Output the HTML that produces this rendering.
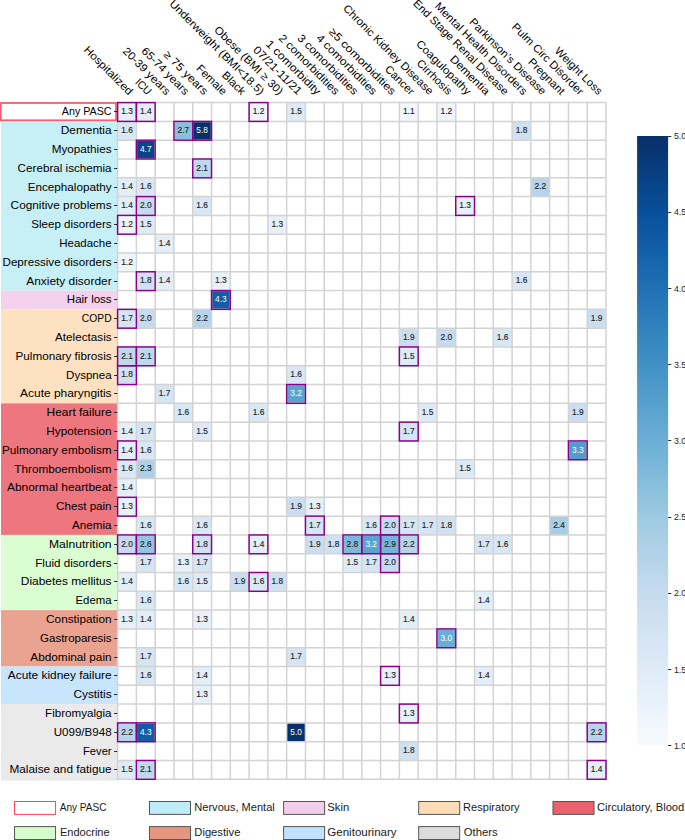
<!DOCTYPE html>
<html><head><meta charset="utf-8"><title>PASC heatmap</title>
<style>html,body{margin:0;padding:0;background:#fff;}body{width:685px;height:840px;position:relative;overflow:hidden;}
svg text{font-family:"Liberation Sans", sans-serif;}</style></head>
<body>
<svg width="685" height="840" viewBox="0 0 685 840" style="position:absolute;left:0;top:0">
<defs><linearGradient id="cb" x1="0" y1="1" x2="0" y2="0">
<stop offset="0.0000" stop-color="#f7fbff"/>
<stop offset="0.0312" stop-color="#f1f7fd"/>
<stop offset="0.0625" stop-color="#eaf3fb"/>
<stop offset="0.0938" stop-color="#e4eff9"/>
<stop offset="0.1250" stop-color="#deebf7"/>
<stop offset="0.1562" stop-color="#d8e7f5"/>
<stop offset="0.1875" stop-color="#d2e3f3"/>
<stop offset="0.2188" stop-color="#ccdff1"/>
<stop offset="0.2500" stop-color="#c6dbef"/>
<stop offset="0.2812" stop-color="#bcd7eb"/>
<stop offset="0.3125" stop-color="#b2d2e8"/>
<stop offset="0.3438" stop-color="#a8cee4"/>
<stop offset="0.3750" stop-color="#9dcae1"/>
<stop offset="0.4062" stop-color="#91c3de"/>
<stop offset="0.4375" stop-color="#84bcdb"/>
<stop offset="0.4688" stop-color="#77b5d9"/>
<stop offset="0.5000" stop-color="#6aaed6"/>
<stop offset="0.5312" stop-color="#60a7d2"/>
<stop offset="0.5625" stop-color="#56a0ce"/>
<stop offset="0.5938" stop-color="#4b98ca"/>
<stop offset="0.6250" stop-color="#4191c6"/>
<stop offset="0.6562" stop-color="#3989c1"/>
<stop offset="0.6875" stop-color="#3181bd"/>
<stop offset="0.7188" stop-color="#2979b9"/>
<stop offset="0.7500" stop-color="#2070b4"/>
<stop offset="0.7812" stop-color="#1a68ae"/>
<stop offset="0.8125" stop-color="#1460a8"/>
<stop offset="0.8438" stop-color="#0e58a2"/>
<stop offset="0.8750" stop-color="#08509b"/>
<stop offset="0.9062" stop-color="#08488e"/>
<stop offset="0.9375" stop-color="#084082"/>
<stop offset="0.9688" stop-color="#083776"/>
<stop offset="1.0000" stop-color="#08306b"/>
</linearGradient></defs>
<rect x="0" y="0" width="685" height="840" fill="#fff"/>
<rect x="1.0" y="121.40" width="116.60" height="169.17" fill="#c7eff6"/>
<rect x="1.0" y="290.57" width="116.60" height="18.80" fill="#f4d2ee"/>
<rect x="1.0" y="309.37" width="116.60" height="93.99" fill="#fee1c1"/>
<rect x="1.0" y="403.35" width="116.60" height="131.58" fill="#ee767e"/>
<rect x="1.0" y="534.93" width="116.60" height="75.19" fill="#dafed2"/>
<rect x="1.0" y="610.12" width="116.60" height="56.39" fill="#eaa391"/>
<rect x="1.0" y="666.51" width="116.60" height="37.59" fill="#c8e5fe"/>
<rect x="1.0" y="704.10" width="116.60" height="76.50" fill="#eaeaea"/>
<rect x="0.7" y="103.0" width="115.30" height="17.30" fill="#fff" stroke="#ff5a6e" stroke-width="1.8"/>
<rect x="117.60" y="102.60" width="18.79" height="18.80" fill="#e8f1fa"/>
<rect x="136.38" y="102.60" width="18.79" height="18.80" fill="#e3eef9"/>
<rect x="249.09" y="102.60" width="18.79" height="18.80" fill="#eef5fc"/>
<rect x="286.66" y="102.60" width="18.79" height="18.80" fill="#deebf7"/>
<rect x="399.38" y="102.60" width="18.79" height="18.80" fill="#f2f8fd"/>
<rect x="436.95" y="102.60" width="18.79" height="18.80" fill="#eef5fc"/>
<rect x="117.60" y="121.40" width="18.79" height="18.80" fill="#d9e8f5"/>
<rect x="173.95" y="121.40" width="18.79" height="18.80" fill="#8abfdd"/>
<rect x="192.74" y="121.40" width="18.79" height="18.80" fill="#08306b"/>
<rect x="512.09" y="121.40" width="18.79" height="18.80" fill="#d0e1f2"/>
<rect x="136.38" y="140.19" width="18.79" height="18.80" fill="#084488"/>
<rect x="192.74" y="158.99" width="18.79" height="18.80" fill="#bed8ec"/>
<rect x="117.60" y="177.79" width="18.79" height="18.80" fill="#e3eef9"/>
<rect x="136.38" y="177.79" width="18.79" height="18.80" fill="#d9e8f5"/>
<rect x="530.87" y="177.79" width="18.79" height="18.80" fill="#b7d4ea"/>
<rect x="117.60" y="196.58" width="18.79" height="18.80" fill="#e3eef9"/>
<rect x="136.38" y="196.58" width="18.79" height="18.80" fill="#c6dbef"/>
<rect x="192.74" y="196.58" width="18.79" height="18.80" fill="#d9e8f5"/>
<rect x="455.73" y="196.58" width="18.79" height="18.80" fill="#e8f1fa"/>
<rect x="117.60" y="215.38" width="18.79" height="18.80" fill="#eef5fc"/>
<rect x="136.38" y="215.38" width="18.79" height="18.80" fill="#deebf7"/>
<rect x="267.88" y="215.38" width="18.79" height="18.80" fill="#e8f1fa"/>
<rect x="155.17" y="234.18" width="18.79" height="18.80" fill="#e3eef9"/>
<rect x="117.60" y="252.98" width="18.79" height="18.80" fill="#eef5fc"/>
<rect x="136.38" y="271.77" width="18.79" height="18.80" fill="#d0e1f2"/>
<rect x="155.17" y="271.77" width="18.79" height="18.80" fill="#e3eef9"/>
<rect x="211.52" y="271.77" width="18.79" height="18.80" fill="#e8f1fa"/>
<rect x="512.09" y="271.77" width="18.79" height="18.80" fill="#d9e8f5"/>
<rect x="211.52" y="290.57" width="18.79" height="18.80" fill="#125da6"/>
<rect x="117.60" y="309.37" width="18.79" height="18.80" fill="#d5e5f4"/>
<rect x="136.38" y="309.37" width="18.79" height="18.80" fill="#c6dbef"/>
<rect x="192.74" y="309.37" width="18.79" height="18.80" fill="#b7d4ea"/>
<rect x="587.23" y="309.37" width="18.79" height="18.80" fill="#cbdef1"/>
<rect x="399.38" y="328.16" width="18.79" height="18.80" fill="#cbdef1"/>
<rect x="436.95" y="328.16" width="18.79" height="18.80" fill="#c6dbef"/>
<rect x="493.30" y="328.16" width="18.79" height="18.80" fill="#d9e8f5"/>
<rect x="117.60" y="346.96" width="18.79" height="18.80" fill="#bed8ec"/>
<rect x="136.38" y="346.96" width="18.79" height="18.80" fill="#bed8ec"/>
<rect x="399.38" y="346.96" width="18.79" height="18.80" fill="#deebf7"/>
<rect x="117.60" y="365.76" width="18.79" height="18.80" fill="#d0e1f2"/>
<rect x="286.66" y="365.76" width="18.79" height="18.80" fill="#d9e8f5"/>
<rect x="155.17" y="384.55" width="18.79" height="18.80" fill="#d5e5f4"/>
<rect x="286.66" y="384.55" width="18.79" height="18.80" fill="#5ba3d0"/>
<rect x="173.95" y="403.35" width="18.79" height="18.80" fill="#d9e8f5"/>
<rect x="249.09" y="403.35" width="18.79" height="18.80" fill="#d9e8f5"/>
<rect x="418.16" y="403.35" width="18.79" height="18.80" fill="#deebf7"/>
<rect x="568.44" y="403.35" width="18.79" height="18.80" fill="#cbdef1"/>
<rect x="117.60" y="422.15" width="18.79" height="18.80" fill="#e3eef9"/>
<rect x="136.38" y="422.15" width="18.79" height="18.80" fill="#d5e5f4"/>
<rect x="192.74" y="422.15" width="18.79" height="18.80" fill="#deebf7"/>
<rect x="399.38" y="422.15" width="18.79" height="18.80" fill="#d5e5f4"/>
<rect x="117.60" y="440.95" width="18.79" height="18.80" fill="#e3eef9"/>
<rect x="136.38" y="440.95" width="18.79" height="18.80" fill="#d9e8f5"/>
<rect x="568.44" y="440.95" width="18.79" height="18.80" fill="#529dcc"/>
<rect x="117.60" y="459.74" width="18.79" height="18.80" fill="#d9e8f5"/>
<rect x="136.38" y="459.74" width="18.79" height="18.80" fill="#aed1e7"/>
<rect x="455.73" y="459.74" width="18.79" height="18.80" fill="#deebf7"/>
<rect x="117.60" y="478.54" width="18.79" height="18.80" fill="#e3eef9"/>
<rect x="117.60" y="497.34" width="18.79" height="18.80" fill="#e8f1fa"/>
<rect x="286.66" y="497.34" width="18.79" height="18.80" fill="#cbdef1"/>
<rect x="305.45" y="497.34" width="18.79" height="18.80" fill="#e8f1fa"/>
<rect x="136.38" y="516.13" width="18.79" height="18.80" fill="#d9e8f5"/>
<rect x="192.74" y="516.13" width="18.79" height="18.80" fill="#d9e8f5"/>
<rect x="305.45" y="516.13" width="18.79" height="18.80" fill="#d5e5f4"/>
<rect x="361.81" y="516.13" width="18.79" height="18.80" fill="#d9e8f5"/>
<rect x="380.59" y="516.13" width="18.79" height="18.80" fill="#c6dbef"/>
<rect x="399.38" y="516.13" width="18.79" height="18.80" fill="#d5e5f4"/>
<rect x="418.16" y="516.13" width="18.79" height="18.80" fill="#d5e5f4"/>
<rect x="436.95" y="516.13" width="18.79" height="18.80" fill="#d0e1f2"/>
<rect x="549.65" y="516.13" width="18.79" height="18.80" fill="#a6cee4"/>
<rect x="117.60" y="534.93" width="18.79" height="18.80" fill="#c6dbef"/>
<rect x="136.38" y="534.93" width="18.79" height="18.80" fill="#94c4df"/>
<rect x="192.74" y="534.93" width="18.79" height="18.80" fill="#d0e1f2"/>
<rect x="249.09" y="534.93" width="18.79" height="18.80" fill="#e3eef9"/>
<rect x="305.45" y="534.93" width="18.79" height="18.80" fill="#cbdef1"/>
<rect x="324.24" y="534.93" width="18.79" height="18.80" fill="#d0e1f2"/>
<rect x="343.02" y="534.93" width="18.79" height="18.80" fill="#7fb9da"/>
<rect x="361.81" y="534.93" width="18.79" height="18.80" fill="#5ba3d0"/>
<rect x="380.59" y="534.93" width="18.79" height="18.80" fill="#75b4d8"/>
<rect x="399.38" y="534.93" width="18.79" height="18.80" fill="#b7d4ea"/>
<rect x="474.51" y="534.93" width="18.79" height="18.80" fill="#d5e5f4"/>
<rect x="493.30" y="534.93" width="18.79" height="18.80" fill="#d9e8f5"/>
<rect x="136.38" y="553.73" width="18.79" height="18.80" fill="#d5e5f4"/>
<rect x="173.95" y="553.73" width="18.79" height="18.80" fill="#e8f1fa"/>
<rect x="192.74" y="553.73" width="18.79" height="18.80" fill="#d5e5f4"/>
<rect x="343.02" y="553.73" width="18.79" height="18.80" fill="#deebf7"/>
<rect x="361.81" y="553.73" width="18.79" height="18.80" fill="#d5e5f4"/>
<rect x="380.59" y="553.73" width="18.79" height="18.80" fill="#c6dbef"/>
<rect x="117.60" y="572.52" width="18.79" height="18.80" fill="#e3eef9"/>
<rect x="173.95" y="572.52" width="18.79" height="18.80" fill="#d9e8f5"/>
<rect x="192.74" y="572.52" width="18.79" height="18.80" fill="#deebf7"/>
<rect x="230.31" y="572.52" width="18.79" height="18.80" fill="#cbdef1"/>
<rect x="249.09" y="572.52" width="18.79" height="18.80" fill="#d9e8f5"/>
<rect x="267.88" y="572.52" width="18.79" height="18.80" fill="#d0e1f2"/>
<rect x="136.38" y="591.32" width="18.79" height="18.80" fill="#d9e8f5"/>
<rect x="474.51" y="591.32" width="18.79" height="18.80" fill="#e3eef9"/>
<rect x="117.60" y="610.12" width="18.79" height="18.80" fill="#e8f1fa"/>
<rect x="136.38" y="610.12" width="18.79" height="18.80" fill="#e3eef9"/>
<rect x="192.74" y="610.12" width="18.79" height="18.80" fill="#e8f1fa"/>
<rect x="399.38" y="610.12" width="18.79" height="18.80" fill="#e3eef9"/>
<rect x="436.95" y="628.92" width="18.79" height="18.80" fill="#6aaed6"/>
<rect x="136.38" y="647.71" width="18.79" height="18.80" fill="#d5e5f4"/>
<rect x="286.66" y="647.71" width="18.79" height="18.80" fill="#d5e5f4"/>
<rect x="136.38" y="666.51" width="18.79" height="18.80" fill="#d9e8f5"/>
<rect x="192.74" y="666.51" width="18.79" height="18.80" fill="#e3eef9"/>
<rect x="380.59" y="666.51" width="18.79" height="18.80" fill="#e8f1fa"/>
<rect x="474.51" y="666.51" width="18.79" height="18.80" fill="#e3eef9"/>
<rect x="192.74" y="685.31" width="18.79" height="18.80" fill="#e8f1fa"/>
<rect x="399.38" y="704.10" width="18.79" height="18.80" fill="#e8f1fa"/>
<rect x="117.60" y="722.90" width="18.79" height="18.80" fill="#b7d4ea"/>
<rect x="136.38" y="722.90" width="18.79" height="18.80" fill="#125da6"/>
<rect x="286.66" y="722.90" width="18.79" height="18.80" fill="#08306b"/>
<rect x="587.23" y="722.90" width="18.79" height="18.80" fill="#b7d4ea"/>
<rect x="399.38" y="741.70" width="18.79" height="18.80" fill="#d0e1f2"/>
<rect x="117.60" y="760.50" width="18.79" height="18.80" fill="#deebf7"/>
<rect x="136.38" y="760.50" width="18.79" height="18.80" fill="#bed8ec"/>
<rect x="587.23" y="760.50" width="18.79" height="18.80" fill="#e3eef9"/>
<path d="M117.60 101.85V780.04M136.38 101.85V780.04M155.17 101.85V780.04M173.95 101.85V780.04M192.74 101.85V780.04M211.52 101.85V780.04M230.31 101.85V780.04M249.09 101.85V780.04M267.88 101.85V780.04M286.66 101.85V780.04M305.45 101.85V780.04M324.24 101.85V780.04M343.02 101.85V780.04M361.81 101.85V780.04M380.59 101.85V780.04M399.38 101.85V780.04M418.16 101.85V780.04M436.95 101.85V780.04M455.73 101.85V780.04M474.51 101.85V780.04M493.30 101.85V780.04M512.09 101.85V780.04M530.87 101.85V780.04M549.65 101.85V780.04M568.44 101.85V780.04M587.23 101.85V780.04M606.01 101.85V780.04M116.85 102.60H606.76M116.85 121.40H606.76M116.85 140.19H606.76M116.85 158.99H606.76M116.85 177.79H606.76M116.85 196.58H606.76M116.85 215.38H606.76M116.85 234.18H606.76M116.85 252.98H606.76M116.85 271.77H606.76M116.85 290.57H606.76M116.85 309.37H606.76M116.85 328.16H606.76M116.85 346.96H606.76M116.85 365.76H606.76M116.85 384.55H606.76M116.85 403.35H606.76M116.85 422.15H606.76M116.85 440.95H606.76M116.85 459.74H606.76M116.85 478.54H606.76M116.85 497.34H606.76M116.85 516.13H606.76M116.85 534.93H606.76M116.85 553.73H606.76M116.85 572.52H606.76M116.85 591.32H606.76M116.85 610.12H606.76M116.85 628.92H606.76M116.85 647.71H606.76M116.85 666.51H606.76M116.85 685.31H606.76M116.85 704.10H606.76M116.85 722.90H606.76M116.85 741.70H606.76M116.85 760.50H606.76M116.85 779.29H606.76" stroke="#d3d3d3" stroke-width="1.5" fill="none"/>
<rect x="117.60" y="102.60" width="18.79" height="18.80" fill="none" stroke="#8b008b" stroke-width="1.45"/>
<rect x="136.38" y="102.60" width="18.79" height="18.80" fill="none" stroke="#8b008b" stroke-width="1.45"/>
<rect x="249.09" y="102.60" width="18.79" height="18.80" fill="none" stroke="#8b008b" stroke-width="1.45"/>
<rect x="173.95" y="121.40" width="18.79" height="18.80" fill="none" stroke="#8b008b" stroke-width="1.45"/>
<rect x="192.74" y="121.40" width="18.79" height="18.80" fill="none" stroke="#8b008b" stroke-width="1.45"/>
<rect x="136.38" y="140.19" width="18.79" height="18.80" fill="none" stroke="#8b008b" stroke-width="1.45"/>
<rect x="192.74" y="158.99" width="18.79" height="18.80" fill="none" stroke="#8b008b" stroke-width="1.45"/>
<rect x="136.38" y="196.58" width="18.79" height="18.80" fill="none" stroke="#8b008b" stroke-width="1.45"/>
<rect x="455.73" y="196.58" width="18.79" height="18.80" fill="none" stroke="#8b008b" stroke-width="1.45"/>
<rect x="117.60" y="215.38" width="18.79" height="18.80" fill="none" stroke="#8b008b" stroke-width="1.45"/>
<rect x="136.38" y="271.77" width="18.79" height="18.80" fill="none" stroke="#8b008b" stroke-width="1.45"/>
<rect x="211.52" y="290.57" width="18.79" height="18.80" fill="none" stroke="#8b008b" stroke-width="1.45"/>
<rect x="117.60" y="309.37" width="18.79" height="18.80" fill="none" stroke="#8b008b" stroke-width="1.45"/>
<rect x="117.60" y="346.96" width="18.79" height="18.80" fill="none" stroke="#8b008b" stroke-width="1.45"/>
<rect x="136.38" y="346.96" width="18.79" height="18.80" fill="none" stroke="#8b008b" stroke-width="1.45"/>
<rect x="399.38" y="346.96" width="18.79" height="18.80" fill="none" stroke="#8b008b" stroke-width="1.45"/>
<rect x="117.60" y="365.76" width="18.79" height="18.80" fill="none" stroke="#8b008b" stroke-width="1.45"/>
<rect x="286.66" y="384.55" width="18.79" height="18.80" fill="none" stroke="#8b008b" stroke-width="1.45"/>
<rect x="399.38" y="422.15" width="18.79" height="18.80" fill="none" stroke="#8b008b" stroke-width="1.45"/>
<rect x="117.60" y="440.95" width="18.79" height="18.80" fill="none" stroke="#8b008b" stroke-width="1.45"/>
<rect x="568.44" y="440.95" width="18.79" height="18.80" fill="none" stroke="#8b008b" stroke-width="1.45"/>
<rect x="117.60" y="497.34" width="18.79" height="18.80" fill="none" stroke="#8b008b" stroke-width="1.45"/>
<rect x="305.45" y="516.13" width="18.79" height="18.80" fill="none" stroke="#8b008b" stroke-width="1.45"/>
<rect x="380.59" y="516.13" width="18.79" height="18.80" fill="none" stroke="#8b008b" stroke-width="1.45"/>
<rect x="117.60" y="534.93" width="18.79" height="18.80" fill="none" stroke="#8b008b" stroke-width="1.45"/>
<rect x="136.38" y="534.93" width="18.79" height="18.80" fill="none" stroke="#8b008b" stroke-width="1.45"/>
<rect x="192.74" y="534.93" width="18.79" height="18.80" fill="none" stroke="#8b008b" stroke-width="1.45"/>
<rect x="249.09" y="534.93" width="18.79" height="18.80" fill="none" stroke="#8b008b" stroke-width="1.45"/>
<rect x="343.02" y="534.93" width="18.79" height="18.80" fill="none" stroke="#8b008b" stroke-width="1.45"/>
<rect x="361.81" y="534.93" width="18.79" height="18.80" fill="none" stroke="#8b008b" stroke-width="1.45"/>
<rect x="380.59" y="534.93" width="18.79" height="18.80" fill="none" stroke="#8b008b" stroke-width="1.45"/>
<rect x="399.38" y="534.93" width="18.79" height="18.80" fill="none" stroke="#8b008b" stroke-width="1.45"/>
<rect x="380.59" y="553.73" width="18.79" height="18.80" fill="none" stroke="#8b008b" stroke-width="1.45"/>
<rect x="249.09" y="572.52" width="18.79" height="18.80" fill="none" stroke="#8b008b" stroke-width="1.45"/>
<rect x="436.95" y="628.92" width="18.79" height="18.80" fill="none" stroke="#8b008b" stroke-width="1.45"/>
<rect x="380.59" y="666.51" width="18.79" height="18.80" fill="none" stroke="#8b008b" stroke-width="1.45"/>
<rect x="399.38" y="704.10" width="18.79" height="18.80" fill="none" stroke="#8b008b" stroke-width="1.45"/>
<rect x="117.60" y="722.90" width="18.79" height="18.80" fill="none" stroke="#8b008b" stroke-width="1.45"/>
<rect x="136.38" y="722.90" width="18.79" height="18.80" fill="none" stroke="#8b008b" stroke-width="1.45"/>
<rect x="587.23" y="722.90" width="18.79" height="18.80" fill="none" stroke="#8b008b" stroke-width="1.45"/>
<rect x="136.38" y="760.50" width="18.79" height="18.80" fill="none" stroke="#8b008b" stroke-width="1.45"/>
<rect x="587.23" y="760.50" width="18.79" height="18.80" fill="none" stroke="#8b008b" stroke-width="1.45"/>
<text x="126.99" y="114.30" text-anchor="middle" font-size="8.3" fill="#262626" stroke="#262626" stroke-width="0.15" textLength="11.61" lengthAdjust="spacingAndGlyphs">1.3</text>
<text x="145.78" y="114.30" text-anchor="middle" font-size="8.3" fill="#262626" stroke="#262626" stroke-width="0.15" textLength="11.61" lengthAdjust="spacingAndGlyphs">1.4</text>
<text x="258.49" y="114.30" text-anchor="middle" font-size="8.3" fill="#262626" stroke="#262626" stroke-width="0.15" textLength="11.61" lengthAdjust="spacingAndGlyphs">1.2</text>
<text x="296.06" y="114.30" text-anchor="middle" font-size="8.3" fill="#262626" stroke="#262626" stroke-width="0.15" textLength="11.61" lengthAdjust="spacingAndGlyphs">1.5</text>
<text x="408.77" y="114.30" text-anchor="middle" font-size="8.3" fill="#262626" stroke="#262626" stroke-width="0.15" textLength="11.61" lengthAdjust="spacingAndGlyphs">1.1</text>
<text x="446.34" y="114.30" text-anchor="middle" font-size="8.3" fill="#262626" stroke="#262626" stroke-width="0.15" textLength="11.61" lengthAdjust="spacingAndGlyphs">1.2</text>
<text x="126.99" y="133.10" text-anchor="middle" font-size="8.3" fill="#262626" stroke="#262626" stroke-width="0.15" textLength="11.61" lengthAdjust="spacingAndGlyphs">1.6</text>
<text x="183.35" y="133.10" text-anchor="middle" font-size="8.3" fill="#262626" stroke="#262626" stroke-width="0.15" textLength="11.61" lengthAdjust="spacingAndGlyphs">2.7</text>
<text x="202.13" y="133.10" text-anchor="middle" font-size="8.3" fill="#ffffff" stroke="#ffffff" stroke-width="0.0" textLength="11.61" lengthAdjust="spacingAndGlyphs">5.8</text>
<text x="521.48" y="133.10" text-anchor="middle" font-size="8.3" fill="#262626" stroke="#262626" stroke-width="0.15" textLength="11.61" lengthAdjust="spacingAndGlyphs">1.8</text>
<text x="145.78" y="151.89" text-anchor="middle" font-size="8.3" fill="#ffffff" stroke="#ffffff" stroke-width="0.0" textLength="11.61" lengthAdjust="spacingAndGlyphs">4.7</text>
<text x="202.13" y="170.69" text-anchor="middle" font-size="8.3" fill="#262626" stroke="#262626" stroke-width="0.15" textLength="11.61" lengthAdjust="spacingAndGlyphs">2.1</text>
<text x="126.99" y="189.49" text-anchor="middle" font-size="8.3" fill="#262626" stroke="#262626" stroke-width="0.15" textLength="11.61" lengthAdjust="spacingAndGlyphs">1.4</text>
<text x="145.78" y="189.49" text-anchor="middle" font-size="8.3" fill="#262626" stroke="#262626" stroke-width="0.15" textLength="11.61" lengthAdjust="spacingAndGlyphs">1.6</text>
<text x="540.26" y="189.49" text-anchor="middle" font-size="8.3" fill="#262626" stroke="#262626" stroke-width="0.15" textLength="11.61" lengthAdjust="spacingAndGlyphs">2.2</text>
<text x="126.99" y="208.28" text-anchor="middle" font-size="8.3" fill="#262626" stroke="#262626" stroke-width="0.15" textLength="11.61" lengthAdjust="spacingAndGlyphs">1.4</text>
<text x="145.78" y="208.28" text-anchor="middle" font-size="8.3" fill="#262626" stroke="#262626" stroke-width="0.15" textLength="11.61" lengthAdjust="spacingAndGlyphs">2.0</text>
<text x="202.13" y="208.28" text-anchor="middle" font-size="8.3" fill="#262626" stroke="#262626" stroke-width="0.15" textLength="11.61" lengthAdjust="spacingAndGlyphs">1.6</text>
<text x="465.12" y="208.28" text-anchor="middle" font-size="8.3" fill="#262626" stroke="#262626" stroke-width="0.15" textLength="11.61" lengthAdjust="spacingAndGlyphs">1.3</text>
<text x="126.99" y="227.08" text-anchor="middle" font-size="8.3" fill="#262626" stroke="#262626" stroke-width="0.15" textLength="11.61" lengthAdjust="spacingAndGlyphs">1.2</text>
<text x="145.78" y="227.08" text-anchor="middle" font-size="8.3" fill="#262626" stroke="#262626" stroke-width="0.15" textLength="11.61" lengthAdjust="spacingAndGlyphs">1.5</text>
<text x="277.27" y="227.08" text-anchor="middle" font-size="8.3" fill="#262626" stroke="#262626" stroke-width="0.15" textLength="11.61" lengthAdjust="spacingAndGlyphs">1.3</text>
<text x="164.56" y="245.88" text-anchor="middle" font-size="8.3" fill="#262626" stroke="#262626" stroke-width="0.15" textLength="11.61" lengthAdjust="spacingAndGlyphs">1.4</text>
<text x="126.99" y="264.67" text-anchor="middle" font-size="8.3" fill="#262626" stroke="#262626" stroke-width="0.15" textLength="11.61" lengthAdjust="spacingAndGlyphs">1.2</text>
<text x="145.78" y="283.47" text-anchor="middle" font-size="8.3" fill="#262626" stroke="#262626" stroke-width="0.15" textLength="11.61" lengthAdjust="spacingAndGlyphs">1.8</text>
<text x="164.56" y="283.47" text-anchor="middle" font-size="8.3" fill="#262626" stroke="#262626" stroke-width="0.15" textLength="11.61" lengthAdjust="spacingAndGlyphs">1.4</text>
<text x="220.92" y="283.47" text-anchor="middle" font-size="8.3" fill="#262626" stroke="#262626" stroke-width="0.15" textLength="11.61" lengthAdjust="spacingAndGlyphs">1.3</text>
<text x="521.48" y="283.47" text-anchor="middle" font-size="8.3" fill="#262626" stroke="#262626" stroke-width="0.15" textLength="11.61" lengthAdjust="spacingAndGlyphs">1.6</text>
<text x="220.92" y="302.27" text-anchor="middle" font-size="8.3" fill="#ffffff" stroke="#ffffff" stroke-width="0.0" textLength="11.61" lengthAdjust="spacingAndGlyphs">4.3</text>
<text x="126.99" y="321.07" text-anchor="middle" font-size="8.3" fill="#262626" stroke="#262626" stroke-width="0.15" textLength="11.61" lengthAdjust="spacingAndGlyphs">1.7</text>
<text x="145.78" y="321.07" text-anchor="middle" font-size="8.3" fill="#262626" stroke="#262626" stroke-width="0.15" textLength="11.61" lengthAdjust="spacingAndGlyphs">2.0</text>
<text x="202.13" y="321.07" text-anchor="middle" font-size="8.3" fill="#262626" stroke="#262626" stroke-width="0.15" textLength="11.61" lengthAdjust="spacingAndGlyphs">2.2</text>
<text x="596.62" y="321.07" text-anchor="middle" font-size="8.3" fill="#262626" stroke="#262626" stroke-width="0.15" textLength="11.61" lengthAdjust="spacingAndGlyphs">1.9</text>
<text x="408.77" y="339.86" text-anchor="middle" font-size="8.3" fill="#262626" stroke="#262626" stroke-width="0.15" textLength="11.61" lengthAdjust="spacingAndGlyphs">1.9</text>
<text x="446.34" y="339.86" text-anchor="middle" font-size="8.3" fill="#262626" stroke="#262626" stroke-width="0.15" textLength="11.61" lengthAdjust="spacingAndGlyphs">2.0</text>
<text x="502.69" y="339.86" text-anchor="middle" font-size="8.3" fill="#262626" stroke="#262626" stroke-width="0.15" textLength="11.61" lengthAdjust="spacingAndGlyphs">1.6</text>
<text x="126.99" y="358.66" text-anchor="middle" font-size="8.3" fill="#262626" stroke="#262626" stroke-width="0.15" textLength="11.61" lengthAdjust="spacingAndGlyphs">2.1</text>
<text x="145.78" y="358.66" text-anchor="middle" font-size="8.3" fill="#262626" stroke="#262626" stroke-width="0.15" textLength="11.61" lengthAdjust="spacingAndGlyphs">2.1</text>
<text x="408.77" y="358.66" text-anchor="middle" font-size="8.3" fill="#262626" stroke="#262626" stroke-width="0.15" textLength="11.61" lengthAdjust="spacingAndGlyphs">1.5</text>
<text x="126.99" y="377.46" text-anchor="middle" font-size="8.3" fill="#262626" stroke="#262626" stroke-width="0.15" textLength="11.61" lengthAdjust="spacingAndGlyphs">1.8</text>
<text x="296.06" y="377.46" text-anchor="middle" font-size="8.3" fill="#262626" stroke="#262626" stroke-width="0.15" textLength="11.61" lengthAdjust="spacingAndGlyphs">1.6</text>
<text x="164.56" y="396.25" text-anchor="middle" font-size="8.3" fill="#262626" stroke="#262626" stroke-width="0.15" textLength="11.61" lengthAdjust="spacingAndGlyphs">1.7</text>
<text x="296.06" y="396.25" text-anchor="middle" font-size="8.3" fill="#ffffff" stroke="#ffffff" stroke-width="0.0" textLength="11.61" lengthAdjust="spacingAndGlyphs">3.2</text>
<text x="183.35" y="415.05" text-anchor="middle" font-size="8.3" fill="#262626" stroke="#262626" stroke-width="0.15" textLength="11.61" lengthAdjust="spacingAndGlyphs">1.6</text>
<text x="258.49" y="415.05" text-anchor="middle" font-size="8.3" fill="#262626" stroke="#262626" stroke-width="0.15" textLength="11.61" lengthAdjust="spacingAndGlyphs">1.6</text>
<text x="427.55" y="415.05" text-anchor="middle" font-size="8.3" fill="#262626" stroke="#262626" stroke-width="0.15" textLength="11.61" lengthAdjust="spacingAndGlyphs">1.5</text>
<text x="577.83" y="415.05" text-anchor="middle" font-size="8.3" fill="#262626" stroke="#262626" stroke-width="0.15" textLength="11.61" lengthAdjust="spacingAndGlyphs">1.9</text>
<text x="126.99" y="433.85" text-anchor="middle" font-size="8.3" fill="#262626" stroke="#262626" stroke-width="0.15" textLength="11.61" lengthAdjust="spacingAndGlyphs">1.4</text>
<text x="145.78" y="433.85" text-anchor="middle" font-size="8.3" fill="#262626" stroke="#262626" stroke-width="0.15" textLength="11.61" lengthAdjust="spacingAndGlyphs">1.7</text>
<text x="202.13" y="433.85" text-anchor="middle" font-size="8.3" fill="#262626" stroke="#262626" stroke-width="0.15" textLength="11.61" lengthAdjust="spacingAndGlyphs">1.5</text>
<text x="408.77" y="433.85" text-anchor="middle" font-size="8.3" fill="#262626" stroke="#262626" stroke-width="0.15" textLength="11.61" lengthAdjust="spacingAndGlyphs">1.7</text>
<text x="126.99" y="452.64" text-anchor="middle" font-size="8.3" fill="#262626" stroke="#262626" stroke-width="0.15" textLength="11.61" lengthAdjust="spacingAndGlyphs">1.4</text>
<text x="145.78" y="452.64" text-anchor="middle" font-size="8.3" fill="#262626" stroke="#262626" stroke-width="0.15" textLength="11.61" lengthAdjust="spacingAndGlyphs">1.6</text>
<text x="577.83" y="452.64" text-anchor="middle" font-size="8.3" fill="#ffffff" stroke="#ffffff" stroke-width="0.0" textLength="11.61" lengthAdjust="spacingAndGlyphs">3.3</text>
<text x="126.99" y="471.44" text-anchor="middle" font-size="8.3" fill="#262626" stroke="#262626" stroke-width="0.15" textLength="11.61" lengthAdjust="spacingAndGlyphs">1.6</text>
<text x="145.78" y="471.44" text-anchor="middle" font-size="8.3" fill="#262626" stroke="#262626" stroke-width="0.15" textLength="11.61" lengthAdjust="spacingAndGlyphs">2.3</text>
<text x="465.12" y="471.44" text-anchor="middle" font-size="8.3" fill="#262626" stroke="#262626" stroke-width="0.15" textLength="11.61" lengthAdjust="spacingAndGlyphs">1.5</text>
<text x="126.99" y="490.24" text-anchor="middle" font-size="8.3" fill="#262626" stroke="#262626" stroke-width="0.15" textLength="11.61" lengthAdjust="spacingAndGlyphs">1.4</text>
<text x="126.99" y="509.04" text-anchor="middle" font-size="8.3" fill="#262626" stroke="#262626" stroke-width="0.15" textLength="11.61" lengthAdjust="spacingAndGlyphs">1.3</text>
<text x="296.06" y="509.04" text-anchor="middle" font-size="8.3" fill="#262626" stroke="#262626" stroke-width="0.15" textLength="11.61" lengthAdjust="spacingAndGlyphs">1.9</text>
<text x="314.84" y="509.04" text-anchor="middle" font-size="8.3" fill="#262626" stroke="#262626" stroke-width="0.15" textLength="11.61" lengthAdjust="spacingAndGlyphs">1.3</text>
<text x="145.78" y="527.83" text-anchor="middle" font-size="8.3" fill="#262626" stroke="#262626" stroke-width="0.15" textLength="11.61" lengthAdjust="spacingAndGlyphs">1.6</text>
<text x="202.13" y="527.83" text-anchor="middle" font-size="8.3" fill="#262626" stroke="#262626" stroke-width="0.15" textLength="11.61" lengthAdjust="spacingAndGlyphs">1.6</text>
<text x="314.84" y="527.83" text-anchor="middle" font-size="8.3" fill="#262626" stroke="#262626" stroke-width="0.15" textLength="11.61" lengthAdjust="spacingAndGlyphs">1.7</text>
<text x="371.20" y="527.83" text-anchor="middle" font-size="8.3" fill="#262626" stroke="#262626" stroke-width="0.15" textLength="11.61" lengthAdjust="spacingAndGlyphs">1.6</text>
<text x="389.98" y="527.83" text-anchor="middle" font-size="8.3" fill="#262626" stroke="#262626" stroke-width="0.15" textLength="11.61" lengthAdjust="spacingAndGlyphs">2.0</text>
<text x="408.77" y="527.83" text-anchor="middle" font-size="8.3" fill="#262626" stroke="#262626" stroke-width="0.15" textLength="11.61" lengthAdjust="spacingAndGlyphs">1.7</text>
<text x="427.55" y="527.83" text-anchor="middle" font-size="8.3" fill="#262626" stroke="#262626" stroke-width="0.15" textLength="11.61" lengthAdjust="spacingAndGlyphs">1.7</text>
<text x="446.34" y="527.83" text-anchor="middle" font-size="8.3" fill="#262626" stroke="#262626" stroke-width="0.15" textLength="11.61" lengthAdjust="spacingAndGlyphs">1.8</text>
<text x="559.05" y="527.83" text-anchor="middle" font-size="8.3" fill="#262626" stroke="#262626" stroke-width="0.15" textLength="11.61" lengthAdjust="spacingAndGlyphs">2.4</text>
<text x="126.99" y="546.63" text-anchor="middle" font-size="8.3" fill="#262626" stroke="#262626" stroke-width="0.15" textLength="11.61" lengthAdjust="spacingAndGlyphs">2.0</text>
<text x="145.78" y="546.63" text-anchor="middle" font-size="8.3" fill="#262626" stroke="#262626" stroke-width="0.15" textLength="11.61" lengthAdjust="spacingAndGlyphs">2.6</text>
<text x="202.13" y="546.63" text-anchor="middle" font-size="8.3" fill="#262626" stroke="#262626" stroke-width="0.15" textLength="11.61" lengthAdjust="spacingAndGlyphs">1.8</text>
<text x="258.49" y="546.63" text-anchor="middle" font-size="8.3" fill="#262626" stroke="#262626" stroke-width="0.15" textLength="11.61" lengthAdjust="spacingAndGlyphs">1.4</text>
<text x="314.84" y="546.63" text-anchor="middle" font-size="8.3" fill="#262626" stroke="#262626" stroke-width="0.15" textLength="11.61" lengthAdjust="spacingAndGlyphs">1.9</text>
<text x="333.63" y="546.63" text-anchor="middle" font-size="8.3" fill="#262626" stroke="#262626" stroke-width="0.15" textLength="11.61" lengthAdjust="spacingAndGlyphs">1.8</text>
<text x="352.41" y="546.63" text-anchor="middle" font-size="8.3" fill="#262626" stroke="#262626" stroke-width="0.15" textLength="11.61" lengthAdjust="spacingAndGlyphs">2.8</text>
<text x="371.20" y="546.63" text-anchor="middle" font-size="8.3" fill="#ffffff" stroke="#ffffff" stroke-width="0.0" textLength="11.61" lengthAdjust="spacingAndGlyphs">3.2</text>
<text x="389.98" y="546.63" text-anchor="middle" font-size="8.3" fill="#262626" stroke="#262626" stroke-width="0.15" textLength="11.61" lengthAdjust="spacingAndGlyphs">2.9</text>
<text x="408.77" y="546.63" text-anchor="middle" font-size="8.3" fill="#262626" stroke="#262626" stroke-width="0.15" textLength="11.61" lengthAdjust="spacingAndGlyphs">2.2</text>
<text x="483.91" y="546.63" text-anchor="middle" font-size="8.3" fill="#262626" stroke="#262626" stroke-width="0.15" textLength="11.61" lengthAdjust="spacingAndGlyphs">1.7</text>
<text x="502.69" y="546.63" text-anchor="middle" font-size="8.3" fill="#262626" stroke="#262626" stroke-width="0.15" textLength="11.61" lengthAdjust="spacingAndGlyphs">1.6</text>
<text x="145.78" y="565.43" text-anchor="middle" font-size="8.3" fill="#262626" stroke="#262626" stroke-width="0.15" textLength="11.61" lengthAdjust="spacingAndGlyphs">1.7</text>
<text x="183.35" y="565.43" text-anchor="middle" font-size="8.3" fill="#262626" stroke="#262626" stroke-width="0.15" textLength="11.61" lengthAdjust="spacingAndGlyphs">1.3</text>
<text x="202.13" y="565.43" text-anchor="middle" font-size="8.3" fill="#262626" stroke="#262626" stroke-width="0.15" textLength="11.61" lengthAdjust="spacingAndGlyphs">1.7</text>
<text x="352.41" y="565.43" text-anchor="middle" font-size="8.3" fill="#262626" stroke="#262626" stroke-width="0.15" textLength="11.61" lengthAdjust="spacingAndGlyphs">1.5</text>
<text x="371.20" y="565.43" text-anchor="middle" font-size="8.3" fill="#262626" stroke="#262626" stroke-width="0.15" textLength="11.61" lengthAdjust="spacingAndGlyphs">1.7</text>
<text x="389.98" y="565.43" text-anchor="middle" font-size="8.3" fill="#262626" stroke="#262626" stroke-width="0.15" textLength="11.61" lengthAdjust="spacingAndGlyphs">2.0</text>
<text x="126.99" y="584.22" text-anchor="middle" font-size="8.3" fill="#262626" stroke="#262626" stroke-width="0.15" textLength="11.61" lengthAdjust="spacingAndGlyphs">1.4</text>
<text x="183.35" y="584.22" text-anchor="middle" font-size="8.3" fill="#262626" stroke="#262626" stroke-width="0.15" textLength="11.61" lengthAdjust="spacingAndGlyphs">1.6</text>
<text x="202.13" y="584.22" text-anchor="middle" font-size="8.3" fill="#262626" stroke="#262626" stroke-width="0.15" textLength="11.61" lengthAdjust="spacingAndGlyphs">1.5</text>
<text x="239.70" y="584.22" text-anchor="middle" font-size="8.3" fill="#262626" stroke="#262626" stroke-width="0.15" textLength="11.61" lengthAdjust="spacingAndGlyphs">1.9</text>
<text x="258.49" y="584.22" text-anchor="middle" font-size="8.3" fill="#262626" stroke="#262626" stroke-width="0.15" textLength="11.61" lengthAdjust="spacingAndGlyphs">1.6</text>
<text x="277.27" y="584.22" text-anchor="middle" font-size="8.3" fill="#262626" stroke="#262626" stroke-width="0.15" textLength="11.61" lengthAdjust="spacingAndGlyphs">1.8</text>
<text x="145.78" y="603.02" text-anchor="middle" font-size="8.3" fill="#262626" stroke="#262626" stroke-width="0.15" textLength="11.61" lengthAdjust="spacingAndGlyphs">1.6</text>
<text x="483.91" y="603.02" text-anchor="middle" font-size="8.3" fill="#262626" stroke="#262626" stroke-width="0.15" textLength="11.61" lengthAdjust="spacingAndGlyphs">1.4</text>
<text x="126.99" y="621.82" text-anchor="middle" font-size="8.3" fill="#262626" stroke="#262626" stroke-width="0.15" textLength="11.61" lengthAdjust="spacingAndGlyphs">1.3</text>
<text x="145.78" y="621.82" text-anchor="middle" font-size="8.3" fill="#262626" stroke="#262626" stroke-width="0.15" textLength="11.61" lengthAdjust="spacingAndGlyphs">1.4</text>
<text x="202.13" y="621.82" text-anchor="middle" font-size="8.3" fill="#262626" stroke="#262626" stroke-width="0.15" textLength="11.61" lengthAdjust="spacingAndGlyphs">1.3</text>
<text x="408.77" y="621.82" text-anchor="middle" font-size="8.3" fill="#262626" stroke="#262626" stroke-width="0.15" textLength="11.61" lengthAdjust="spacingAndGlyphs">1.4</text>
<text x="446.34" y="640.61" text-anchor="middle" font-size="8.3" fill="#ffffff" stroke="#ffffff" stroke-width="0.0" textLength="11.61" lengthAdjust="spacingAndGlyphs">3.0</text>
<text x="145.78" y="659.41" text-anchor="middle" font-size="8.3" fill="#262626" stroke="#262626" stroke-width="0.15" textLength="11.61" lengthAdjust="spacingAndGlyphs">1.7</text>
<text x="296.06" y="659.41" text-anchor="middle" font-size="8.3" fill="#262626" stroke="#262626" stroke-width="0.15" textLength="11.61" lengthAdjust="spacingAndGlyphs">1.7</text>
<text x="145.78" y="678.21" text-anchor="middle" font-size="8.3" fill="#262626" stroke="#262626" stroke-width="0.15" textLength="11.61" lengthAdjust="spacingAndGlyphs">1.6</text>
<text x="202.13" y="678.21" text-anchor="middle" font-size="8.3" fill="#262626" stroke="#262626" stroke-width="0.15" textLength="11.61" lengthAdjust="spacingAndGlyphs">1.4</text>
<text x="389.98" y="678.21" text-anchor="middle" font-size="8.3" fill="#262626" stroke="#262626" stroke-width="0.15" textLength="11.61" lengthAdjust="spacingAndGlyphs">1.3</text>
<text x="483.91" y="678.21" text-anchor="middle" font-size="8.3" fill="#262626" stroke="#262626" stroke-width="0.15" textLength="11.61" lengthAdjust="spacingAndGlyphs">1.4</text>
<text x="202.13" y="697.01" text-anchor="middle" font-size="8.3" fill="#262626" stroke="#262626" stroke-width="0.15" textLength="11.61" lengthAdjust="spacingAndGlyphs">1.3</text>
<text x="408.77" y="715.80" text-anchor="middle" font-size="8.3" fill="#262626" stroke="#262626" stroke-width="0.15" textLength="11.61" lengthAdjust="spacingAndGlyphs">1.3</text>
<text x="126.99" y="734.60" text-anchor="middle" font-size="8.3" fill="#262626" stroke="#262626" stroke-width="0.15" textLength="11.61" lengthAdjust="spacingAndGlyphs">2.2</text>
<text x="145.78" y="734.60" text-anchor="middle" font-size="8.3" fill="#ffffff" stroke="#ffffff" stroke-width="0.0" textLength="11.61" lengthAdjust="spacingAndGlyphs">4.3</text>
<text x="296.06" y="734.60" text-anchor="middle" font-size="8.3" fill="#ffffff" stroke="#ffffff" stroke-width="0.0" textLength="11.61" lengthAdjust="spacingAndGlyphs">5.0</text>
<text x="596.62" y="734.60" text-anchor="middle" font-size="8.3" fill="#262626" stroke="#262626" stroke-width="0.15" textLength="11.61" lengthAdjust="spacingAndGlyphs">2.2</text>
<text x="408.77" y="753.40" text-anchor="middle" font-size="8.3" fill="#262626" stroke="#262626" stroke-width="0.15" textLength="11.61" lengthAdjust="spacingAndGlyphs">1.8</text>
<text x="126.99" y="772.19" text-anchor="middle" font-size="8.3" fill="#262626" stroke="#262626" stroke-width="0.15" textLength="11.61" lengthAdjust="spacingAndGlyphs">1.5</text>
<text x="145.78" y="772.19" text-anchor="middle" font-size="8.3" fill="#262626" stroke="#262626" stroke-width="0.15" textLength="11.61" lengthAdjust="spacingAndGlyphs">2.1</text>
<text x="596.62" y="772.19" text-anchor="middle" font-size="8.3" fill="#262626" stroke="#262626" stroke-width="0.15" textLength="11.61" lengthAdjust="spacingAndGlyphs">1.4</text>
<path d="M114.10 111.50H117.30M114.10 130.50H117.30M114.10 149.50H117.30M114.10 168.50H117.30M114.10 187.50H117.30M114.10 205.50H117.30M114.10 224.50H117.30M114.10 243.50H117.30M114.10 262.50H117.30M114.10 281.50H117.30M114.10 299.50H117.30M114.10 318.50H117.30M114.10 337.50H117.30M114.10 356.50H117.30M114.10 375.50H117.30M114.10 393.50H117.30M114.10 412.50H117.30M114.10 431.50H117.30M114.10 450.50H117.30M114.10 469.50H117.30M114.10 487.50H117.30M114.10 506.50H117.30M114.10 525.50H117.30M114.10 544.50H117.30M114.10 563.50H117.30M114.10 581.50H117.30M114.10 600.50H117.30M114.10 619.50H117.30M114.10 638.50H117.30M114.10 657.50H117.30M114.10 675.50H117.30M114.10 694.50H117.30M114.10 713.50H117.30M114.10 732.50H117.30M114.10 751.50H117.30M114.10 769.50H117.30" stroke="#262626" stroke-width="1.0" fill="none"/>
<text x="111.6" y="115.40" text-anchor="end" font-size="11" fill="#000" textLength="49.75" lengthAdjust="spacingAndGlyphs">Any PASC</text>
<text x="111.6" y="134.20" text-anchor="end" font-size="11" fill="#000" textLength="50.87" lengthAdjust="spacingAndGlyphs">Dementia</text>
<text x="111.6" y="152.99" text-anchor="end" font-size="11" fill="#000" textLength="59.84" lengthAdjust="spacingAndGlyphs">Myopathies</text>
<text x="111.6" y="171.79" text-anchor="end" font-size="11" fill="#000" textLength="93.96" lengthAdjust="spacingAndGlyphs">Cerebral ischemia</text>
<text x="111.6" y="190.59" text-anchor="end" font-size="11" fill="#000" textLength="83.90" lengthAdjust="spacingAndGlyphs">Encephalopathy</text>
<text x="111.6" y="209.38" text-anchor="end" font-size="11" fill="#000" textLength="100.98" lengthAdjust="spacingAndGlyphs">Cognitive problems</text>
<text x="111.6" y="228.18" text-anchor="end" font-size="11" fill="#000" textLength="80.25" lengthAdjust="spacingAndGlyphs">Sleep disorders</text>
<text x="111.6" y="246.98" text-anchor="end" font-size="11" fill="#000" textLength="52.27" lengthAdjust="spacingAndGlyphs">Headache</text>
<text x="111.6" y="265.77" text-anchor="end" font-size="11" fill="#000" textLength="109.10" lengthAdjust="spacingAndGlyphs">Depressive disorders</text>
<text x="111.6" y="284.57" text-anchor="end" font-size="11" fill="#000" textLength="85.33" lengthAdjust="spacingAndGlyphs">Anxiety disorder</text>
<text x="111.6" y="303.37" text-anchor="end" font-size="11" fill="#000" textLength="44.75" lengthAdjust="spacingAndGlyphs">Hair loss</text>
<text x="111.6" y="322.17" text-anchor="end" font-size="11" fill="#000" textLength="29.73" lengthAdjust="spacingAndGlyphs">COPD</text>
<text x="111.6" y="340.96" text-anchor="end" font-size="11" fill="#000" textLength="56.59" lengthAdjust="spacingAndGlyphs">Atelectasis</text>
<text x="111.6" y="359.76" text-anchor="end" font-size="11" fill="#000" textLength="96.05" lengthAdjust="spacingAndGlyphs">Pulmonary fibrosis</text>
<text x="111.6" y="378.56" text-anchor="end" font-size="11" fill="#000" textLength="45.55" lengthAdjust="spacingAndGlyphs">Dyspnea</text>
<text x="111.6" y="397.35" text-anchor="end" font-size="11" fill="#000" textLength="91.49" lengthAdjust="spacingAndGlyphs">Acute pharyngitis</text>
<text x="111.6" y="416.15" text-anchor="end" font-size="11" fill="#000" textLength="65.10" lengthAdjust="spacingAndGlyphs">Heart failure</text>
<text x="111.6" y="434.95" text-anchor="end" font-size="11" fill="#000" textLength="65.27" lengthAdjust="spacingAndGlyphs">Hypotension</text>
<text x="111.6" y="453.74" text-anchor="end" font-size="11" fill="#000" textLength="109.59" lengthAdjust="spacingAndGlyphs">Pulmonary embolism</text>
<text x="111.6" y="472.54" text-anchor="end" font-size="11" fill="#000" textLength="97.27" lengthAdjust="spacingAndGlyphs">Thromboembolism</text>
<text x="111.6" y="491.34" text-anchor="end" font-size="11" fill="#000" textLength="104.63" lengthAdjust="spacingAndGlyphs">Abnormal heartbeat</text>
<text x="111.6" y="510.14" text-anchor="end" font-size="11" fill="#000" textLength="55.51" lengthAdjust="spacingAndGlyphs">Chest pain</text>
<text x="111.6" y="528.93" text-anchor="end" font-size="11" fill="#000" textLength="39.50" lengthAdjust="spacingAndGlyphs">Anemia</text>
<text x="111.6" y="547.73" text-anchor="end" font-size="11" fill="#000" textLength="62.58" lengthAdjust="spacingAndGlyphs">Malnutrition</text>
<text x="111.6" y="566.53" text-anchor="end" font-size="11" fill="#000" textLength="76.32" lengthAdjust="spacingAndGlyphs">Fluid disorders</text>
<text x="111.6" y="585.32" text-anchor="end" font-size="11" fill="#000" textLength="90.76" lengthAdjust="spacingAndGlyphs">Diabetes mellitus</text>
<text x="111.6" y="604.12" text-anchor="end" font-size="11" fill="#000" textLength="36.08" lengthAdjust="spacingAndGlyphs">Edema</text>
<text x="111.6" y="622.92" text-anchor="end" font-size="11" fill="#000" textLength="65.50" lengthAdjust="spacingAndGlyphs">Constipation</text>
<text x="111.6" y="641.71" text-anchor="end" font-size="11" fill="#000" textLength="71.49" lengthAdjust="spacingAndGlyphs">Gastroparesis</text>
<text x="111.6" y="660.51" text-anchor="end" font-size="11" fill="#000" textLength="81.32" lengthAdjust="spacingAndGlyphs">Abdominal pain</text>
<text x="111.6" y="679.31" text-anchor="end" font-size="11" fill="#000" textLength="103.84" lengthAdjust="spacingAndGlyphs">Acute kidney failure</text>
<text x="111.6" y="698.11" text-anchor="end" font-size="11" fill="#000" textLength="38.19" lengthAdjust="spacingAndGlyphs">Cystitis</text>
<text x="111.6" y="716.90" text-anchor="end" font-size="11" fill="#000" textLength="66.54" lengthAdjust="spacingAndGlyphs">Fibromyalgia</text>
<text x="111.6" y="735.70" text-anchor="end" font-size="11" fill="#000" textLength="57.95" lengthAdjust="spacingAndGlyphs">U099/B948</text>
<text x="111.6" y="754.50" text-anchor="end" font-size="11" fill="#000" textLength="28.64" lengthAdjust="spacingAndGlyphs">Fever</text>
<text x="111.6" y="773.29" text-anchor="end" font-size="11" fill="#000" textLength="102.09" lengthAdjust="spacingAndGlyphs">Malaise and fatigue</text>
<text transform="translate(128.39,95.60) rotate(45)" text-anchor="end" font-size="11" fill="#000" textLength="63.78" lengthAdjust="spacingAndGlyphs">Hospitalized</text>
<text transform="translate(147.18,95.60) rotate(45)" text-anchor="end" font-size="11" fill="#000" textLength="17.94" lengthAdjust="spacingAndGlyphs">ICU</text>
<text transform="translate(165.96,95.60) rotate(45)" text-anchor="end" font-size="11" fill="#000" textLength="62.15" lengthAdjust="spacingAndGlyphs">20-39 years</text>
<text transform="translate(184.75,95.60) rotate(45)" text-anchor="end" font-size="11" fill="#000" textLength="62.15" lengthAdjust="spacingAndGlyphs">65-74 years</text>
<text transform="translate(203.53,95.60) rotate(45)" text-anchor="end" font-size="11" fill="#000" textLength="57.18" lengthAdjust="spacingAndGlyphs">≥ 75 years</text>
<text transform="translate(222.32,95.60) rotate(45)" text-anchor="end" font-size="11" fill="#000" textLength="37.60" lengthAdjust="spacingAndGlyphs">Female</text>
<text transform="translate(241.10,95.60) rotate(45)" text-anchor="end" font-size="11" fill="#000" textLength="28.14" lengthAdjust="spacingAndGlyphs">Black</text>
<text transform="translate(259.89,95.60) rotate(45)" text-anchor="end" font-size="11" fill="#000" textLength="129.01" lengthAdjust="spacingAndGlyphs">Underweight (BMI&lt;18.5)</text>
<text transform="translate(278.67,95.60) rotate(45)" text-anchor="end" font-size="11" fill="#000" textLength="92.16" lengthAdjust="spacingAndGlyphs">Obese (BMI ≥ 30)</text>
<text transform="translate(297.46,95.60) rotate(45)" text-anchor="end" font-size="11" fill="#000" textLength="63.70" lengthAdjust="spacingAndGlyphs">07/21-11/21</text>
<text transform="translate(316.24,95.60) rotate(45)" text-anchor="end" font-size="11" fill="#000" textLength="71.99" lengthAdjust="spacingAndGlyphs">1 comorbidity</text>
<text transform="translate(335.03,95.60) rotate(45)" text-anchor="end" font-size="11" fill="#000" textLength="80.54" lengthAdjust="spacingAndGlyphs">2 comorbidities</text>
<text transform="translate(353.81,95.60) rotate(45)" text-anchor="end" font-size="11" fill="#000" textLength="80.54" lengthAdjust="spacingAndGlyphs">3 comorbidities</text>
<text transform="translate(372.60,95.60) rotate(45)" text-anchor="end" font-size="11" fill="#000" textLength="80.54" lengthAdjust="spacingAndGlyphs">4 comorbidities</text>
<text transform="translate(391.38,95.60) rotate(45)" text-anchor="end" font-size="11" fill="#000" textLength="89.25" lengthAdjust="spacingAndGlyphs">≥5 comorbidities</text>
<text transform="translate(410.17,95.60) rotate(45)" text-anchor="end" font-size="11" fill="#000" textLength="36.62" lengthAdjust="spacingAndGlyphs">Cancer</text>
<text transform="translate(428.95,95.60) rotate(45)" text-anchor="end" font-size="11" fill="#000" textLength="122.43" lengthAdjust="spacingAndGlyphs">Chronic Kidney Disease</text>
<text transform="translate(447.74,95.60) rotate(45)" text-anchor="end" font-size="11" fill="#000" textLength="45.02" lengthAdjust="spacingAndGlyphs">Cirrhosis</text>
<text transform="translate(466.52,95.60) rotate(45)" text-anchor="end" font-size="11" fill="#000" textLength="72.24" lengthAdjust="spacingAndGlyphs">Coagulopathy</text>
<text transform="translate(485.31,95.60) rotate(45)" text-anchor="end" font-size="11" fill="#000" textLength="50.87" lengthAdjust="spacingAndGlyphs">Dementia</text>
<text transform="translate(504.09,95.60) rotate(45)" text-anchor="end" font-size="11" fill="#000" textLength="129.65" lengthAdjust="spacingAndGlyphs">End Stage Renal Disease</text>
<text transform="translate(522.88,95.60) rotate(45)" text-anchor="end" font-size="11" fill="#000" textLength="125.53" lengthAdjust="spacingAndGlyphs">Mental Health Disorders</text>
<text transform="translate(541.66,95.60) rotate(45)" text-anchor="end" font-size="11" fill="#000" textLength="103.26" lengthAdjust="spacingAndGlyphs">Parkinson’s Disease</text>
<text transform="translate(560.45,95.60) rotate(45)" text-anchor="end" font-size="11" fill="#000" textLength="46.77" lengthAdjust="spacingAndGlyphs">Pregnant</text>
<text transform="translate(579.23,95.60) rotate(45)" text-anchor="end" font-size="11" fill="#000" textLength="96.28" lengthAdjust="spacingAndGlyphs">Pulm Circ Disorder</text>
<text transform="translate(598.02,95.60) rotate(45)" text-anchor="end" font-size="11" fill="#000" textLength="62.35" lengthAdjust="spacingAndGlyphs">Weight Loss</text>
<rect x="637.1" y="136.0" width="31.00" height="609.60" fill="url(#cb)"/>
<text x="673.9" y="748.80" font-size="8.2" fill="#262626" textLength="12.25" lengthAdjust="spacingAndGlyphs">1.0</text>
<text x="673.9" y="672.60" font-size="8.2" fill="#262626" textLength="12.25" lengthAdjust="spacingAndGlyphs">1.5</text>
<text x="673.9" y="596.40" font-size="8.2" fill="#262626" textLength="12.25" lengthAdjust="spacingAndGlyphs">2.0</text>
<text x="673.9" y="520.20" font-size="8.2" fill="#262626" textLength="12.25" lengthAdjust="spacingAndGlyphs">2.5</text>
<text x="673.9" y="444.00" font-size="8.2" fill="#262626" textLength="12.25" lengthAdjust="spacingAndGlyphs">3.0</text>
<text x="673.9" y="367.80" font-size="8.2" fill="#262626" textLength="12.25" lengthAdjust="spacingAndGlyphs">3.5</text>
<text x="673.9" y="291.60" font-size="8.2" fill="#262626" textLength="12.25" lengthAdjust="spacingAndGlyphs">4.0</text>
<text x="673.9" y="215.40" font-size="8.2" fill="#262626" textLength="12.25" lengthAdjust="spacingAndGlyphs">4.5</text>
<text x="673.9" y="139.20" font-size="8.2" fill="#262626" textLength="12.25" lengthAdjust="spacingAndGlyphs">5.0</text>
<path d="M668.10 745.50h3.2M668.10 669.50h3.2M668.10 593.50h3.2M668.10 517.50h3.2M668.10 440.50h3.2M668.10 364.50h3.2M668.10 288.50h3.2M668.10 212.50h3.2M668.10 136.50h3.2" stroke="#262626" stroke-width="1.0" fill="none"/>
<rect x="14.55" y="801.50" width="41.0" height="12.9" fill="#ffffff" stroke="#ff4654" stroke-width="1.0"/>
<text x="59.70" y="811.35" font-size="11.2" fill="#1a1a1a" textLength="46.80" lengthAdjust="spacingAndGlyphs">Any PASC</text>
<rect x="149.50" y="801.50" width="41.0" height="12.9" fill="#beecf9" stroke="#555555" stroke-width="1.0"/>
<text x="194.30" y="811.35" font-size="11.2" fill="#1a1a1a" textLength="80.50" lengthAdjust="spacingAndGlyphs">Nervous, Mental</text>
<rect x="283.60" y="801.50" width="41.0" height="12.9" fill="#f3cdec" stroke="#555555" stroke-width="1.0"/>
<text x="327.30" y="811.35" font-size="11.2" fill="#1a1a1a" textLength="21.90" lengthAdjust="spacingAndGlyphs">Skin</text>
<rect x="418.70" y="801.50" width="41.0" height="12.9" fill="#fedcb6" stroke="#555555" stroke-width="1.0"/>
<text x="463.10" y="811.35" font-size="11.2" fill="#1a1a1a" textLength="56.50" lengthAdjust="spacingAndGlyphs">Respiratory</text>
<rect x="553.00" y="801.50" width="41.0" height="12.9" fill="#e9626d" stroke="#555555" stroke-width="1.0"/>
<text x="596.90" y="811.35" font-size="11.2" fill="#1a1a1a" textLength="87.40" lengthAdjust="spacingAndGlyphs">Circulatory, Blood</text>
<rect x="14.55" y="826.60" width="41.0" height="12.9" fill="#d4fdcb" stroke="#555555" stroke-width="1.0"/>
<text x="60.00" y="836.45" font-size="11.2" fill="#1a1a1a" textLength="49.60" lengthAdjust="spacingAndGlyphs">Endocrine</text>
<rect x="149.50" y="826.60" width="41.0" height="12.9" fill="#e6967e" stroke="#555555" stroke-width="1.0"/>
<text x="194.30" y="836.45" font-size="11.2" fill="#1a1a1a" textLength="46.10" lengthAdjust="spacingAndGlyphs">Digestive</text>
<rect x="283.60" y="826.60" width="41.0" height="12.9" fill="#c0e2fe" stroke="#555555" stroke-width="1.0"/>
<text x="327.30" y="836.45" font-size="11.2" fill="#1a1a1a" textLength="69.30" lengthAdjust="spacingAndGlyphs">Genitourinary</text>
<rect x="418.70" y="826.60" width="41.0" height="12.9" fill="#dcdcdc" stroke="#555555" stroke-width="1.0"/>
<text x="463.80" y="836.45" font-size="11.2" fill="#1a1a1a" textLength="33.90" lengthAdjust="spacingAndGlyphs">Others</text>
</svg>
</body></html>
